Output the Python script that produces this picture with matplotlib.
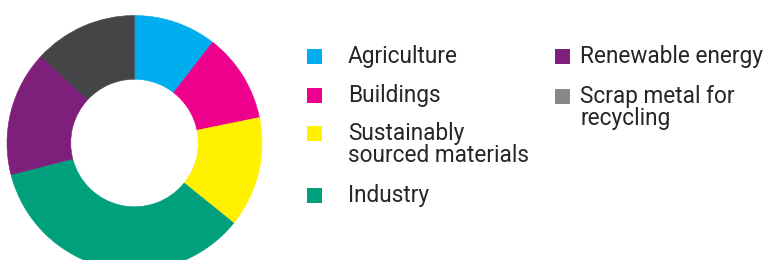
import matplotlib
matplotlib.use("Agg")
import matplotlib.pyplot as plt
from matplotlib.patches import Rectangle

# data (share of the ring, %)
categories = ["Agriculture", "Buildings", "Sustainably sourced materials",
              "Industry", "Renewable energy", "Scrap metal for recycling"]
shares = [10.5, 11.3, 14.0, 35.2, 15.9, 13.1]
slice_colors = ["#00AEEF", "#EC008C", "#FFF100", "#00A07D", "#7F1F7C", "#434547"]
legend_colors = ["#00AEEF", "#EC008C", "#FFF100", "#00A07D", "#7F1F7C", "#87888A"]
legend_labels = ["Agriculture", "Buildings", "Sustainably\nsourced materials",
                 "Industry", "Renewable energy", "Scrap metal for\nrecycling"]

W, H = 772, 260
fig = plt.figure(figsize=(W / 100, H / 100), dpi=100)

# donut: centre (134.5, 143) px, outer radius 127.5 px
cx, cy, r = 134.5, 143, 127.5
ax = fig.add_axes([(cx - r) / W, (H - cy - r) / H, 2 * r / W, 2 * r / H])
wedges, _ = ax.pie(shares, colors=slice_colors, startangle=90, counterclock=False,
                   radius=1, wedgeprops=dict(width=0.5, linewidth=0.4))
for w, c in zip(wedges, slice_colors):
    w.set_edgecolor(c)  # hide the hairline gaps between slices
ax.set_xlim(-1, 1)
ax.set_ylim(-1, 1)
ax.set_aspect("equal")
ax.axis("off")

# legend drawn in pixel coordinates
lg = fig.add_axes([0, 0, 1, 1])
lg.set_xlim(0, W)
lg.set_ylim(H, 0)
lg.axis("off")

# (square x, text x, first baseline y) per entry
spots = [(307, 348, 63.5), (307, 348, 102), (307, 348, 140), (307, 348, 202),
         (555, 580, 63.5), (555, 580, 103)]
for (sx, tx, by), lab, col in zip(spots, legend_labels, legend_colors):
    lg.add_patch(Rectangle((sx, by - 14.5), 15, 15, color=col, lw=0))
    for k, line in enumerate(lab.split("\n")):
        lg.text(tx, by + 21.7 * k, line, fontsize=16.3, family="Roboto",
                color="#262626", va="baseline", ha="left")

fig.savefig("out.png", dpi=100)
